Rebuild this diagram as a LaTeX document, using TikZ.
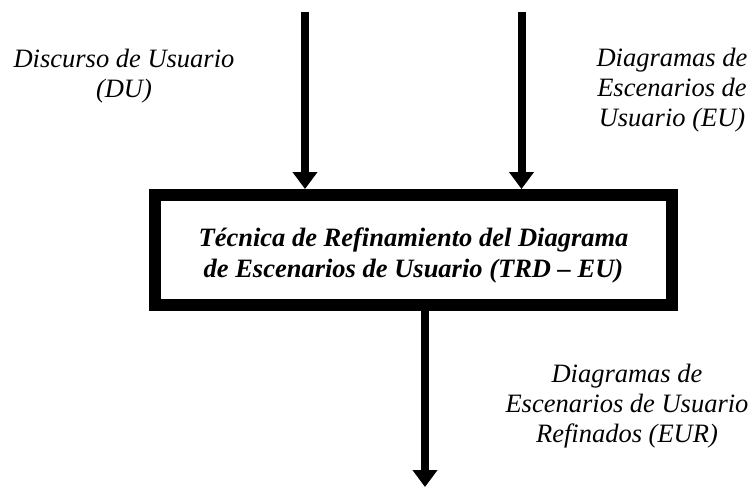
\documentclass[tikz,border=0pt]{standalone}
\usepackage{fontspec}
\setmainfont{Liberation Serif}
\usepackage{tikz}
\usetikzlibrary{arrows.meta, positioning}
\tikzset{
	x = 1pt,
	y = -1pt,
	flow/.style={
		-{Triangle[width=24pt,length=17pt]},
		line width=8pt
	},
	technique/.style={
		draw,
		rectangle,
		line width=12pt,
		minimum width=517pt,
		minimum height=110pt,
		inner sep=0pt
	},
	title/.style={
		align=center,
		font=\fontsize{26.5}{31}\selectfont\bfseries\itshape
	},
	artifact/.style={
		align=center,
		anchor=base,
		inner sep=0pt,
		font=\fontsize{26.5}{30}\selectfont\itshape
	}
}
\begin{document}
\begin{tikzpicture}
	\useasboundingbox (0,0) rectangle (753,488);

	\node[technique] at (413.5,250) (trd) {};
	\node[title] at ([yshift=-5pt]trd.center) (trdtext) {Técnica de Refinamiento del Diagrama\\de Escenarios de Usuario (TRD -- EU)};

	\coordinate (du) at (305,12);
	\coordinate (eu) at (521.5,12);
	\coordinate (eur) at (425,487);

	% anchor=base sits on the last line
	\node[artifact] at (124,97) (dulabel) {Discurso de Usuario\\(DU)};
	\node[artifact] at (672,126) (eulabel) {Diagramas de\\Escenarios de\\Usuario (EU)};
	\node[artifact] at (627,442) (eurlabel) {Diagramas de\\Escenarios de Usuario\\Refinados (EUR)};

	\draw[flow] (du) -- (du |- trd.north);
	\draw[flow] (eu) -- (eu |- trd.north);
	\draw[flow] (trd.south -| eur) -- (eur);
\end{tikzpicture}
\end{document}
